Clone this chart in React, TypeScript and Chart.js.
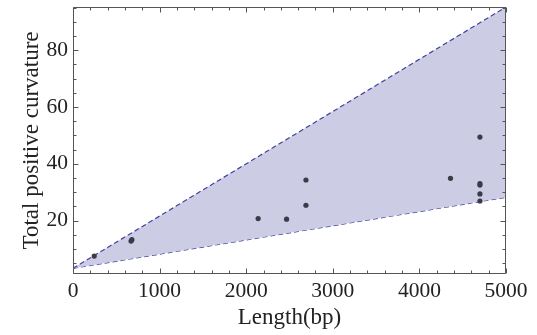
import React, { useEffect, useRef } from "react";
import { Chart, registerables } from "chart.js";

Chart.register(...registerables);

// Scatter data (Length in bp vs total positive curvature)
const lengthBp = [245, 670, 680, 2138, 2466, 2690, 2690, 4359, 4699, 4699, 4699, 4699, 4699];
const curvature = [7.5, 12.8, 13.3, 20.7, 20.5, 25.4, 34.3, 34.9, 49.4, 33.0, 32.5, 29.4, 26.9];

// Bounding lines
const boundX = [0, 5000];
const upperBound = [3.2, 95.2];
const lowerBound = [3.2, 28.2];

// Axes
const xTicks = [0, 1000, 2000, 3000, 4000, 5000];
const yTicks = [20, 40, 60, 80];
const xMin = 0;
const xMax = 5000;
const yMin = 1.2;
const yMax = 95.2;
const xMinorStep = 200;
const yMinorStep = 5;

const FONT = "'Liberation Serif', 'Times New Roman', serif";
const TEXT = "#222222";

const framePlugin = {
  id: "frameTicks",
  afterDatasetsDraw(chart: any) {
    const { ctx, chartArea: a, scales } = chart;
    const x = scales.x;
    const y = scales.y;
    ctx.save();
    ctx.strokeStyle = "#555555";
    ctx.lineWidth = 1;
    const L = Math.round(a.left) + 0.5;
    const R = Math.round(a.right) - 0.5;
    const T = Math.round(a.top) + 0.5;
    const B = Math.round(a.bottom) - 0.5;
    ctx.beginPath();
    ctx.rect(L, T, R - L, B - T);
    ctx.stroke();
    ctx.beginPath();
    for (let v = xMin; v <= xMax; v += xMinorStep) {
      const px = Math.round(x.getPixelForValue(v)) + 0.5;
      const len = v % 1000 === 0 ? 5 : 3;
      ctx.moveTo(px, B);
      ctx.lineTo(px, B - len);
      ctx.moveTo(px, T);
      ctx.lineTo(px, T + len);
    }
    for (let v = yMinorStep; v <= yMax; v += yMinorStep) {
      const py = Math.round(y.getPixelForValue(v)) + 0.5;
      const len = v % 20 === 0 ? 5 : 3;
      ctx.moveTo(L, py);
      ctx.lineTo(L + len, py);
      ctx.moveTo(R, py);
      ctx.lineTo(R - len, py);
    }
    ctx.stroke();
    ctx.restore();
  },
};

export default function App() {
  const ref = useRef<HTMLCanvasElement | null>(null);

  useEffect(() => {
    document.body.style.margin = "0";
    const canvas = ref.current;
    if (!canvas) return;
    const chart = new Chart(canvas, {
      type: "scatter",
      data: {
        datasets: [
          {
            type: "line",
            label: "upper",
            data: boundX.map((x, i) => ({ x, y: upperBound[i] })),
            borderColor: "#4040a0",
            borderWidth: 1.2,
            borderDash: [5, 3],
            pointRadius: 0,
            fill: "+1",
            backgroundColor: "rgba(204,204,228,1)",
            order: 2,
          },
          {
            type: "line",
            label: "lower",
            data: boundX.map((x, i) => ({ x, y: lowerBound[i] })),
            borderColor: "#4040a0",
            borderWidth: 1.2,
            borderDash: [5, 3],
            pointRadius: 0,
            fill: false,
            order: 2,
          },
          {
            type: "scatter",
            label: "data",
            data: lengthBp.map((x, i) => ({ x, y: curvature[i] })),
            backgroundColor: "#3a3a48",
            borderColor: "#3a3a48",
            borderWidth: 0,
            pointRadius: 2.6,
            order: 1,
          },
        ],
      },
      options: {
        responsive: false,
        animation: false,
        devicePixelRatio: 1,
        layout: { padding: { left: 0, right: 31, top: 7, bottom: 0 } },
        plugins: {
          legend: { display: false },
          tooltip: { enabled: false },
        },
        scales: {
          x: {
            type: "linear",
            min: xMin,
            max: xMax,
            grid: { display: false, drawTicks: false },
            border: { display: false },
            afterBuildTicks: (s: any) => {
              s.ticks = xTicks.map((v) => ({ value: v }));
            },
            afterFit: (s: any) => {
              s.height = 61;
              s.paddingLeft = 0;
              s.paddingRight = 0;
              s.paddingTop = 0;
              s.paddingBottom = 0;
            },
            ticks: {
              padding: 4,
              maxRotation: 0,
              autoSkip: false,
              color: TEXT,
              font: { family: FONT, size: 21.5 },
              callback: (v: any) => String(v),
            },
            title: {
              display: true,
              text: "Length(bp)",
              color: TEXT,
              font: { family: FONT, size: 23 },
              padding: { top: 0, bottom: 3 },
            },
          },
          y: {
            type: "linear",
            min: yMin,
            max: yMax,
            grid: { display: false, drawTicks: false },
            border: { display: false },
            afterBuildTicks: (s: any) => {
              s.ticks = yTicks.map((v) => ({ value: v }));
            },
            afterFit: (s: any) => {
              s.width = 73;
              s.paddingLeft = 0;
              s.paddingRight = 0;
              s.paddingTop = 0;
              s.paddingBottom = 0;
            },
            ticks: {
              padding: 5,
              autoSkip: false,
              color: TEXT,
              font: { family: FONT, size: 21.5 },
              callback: (v: any) => String(v),
            },
            title: {
              display: true,
              text: "Total positive curvature",
              color: TEXT,
              font: { family: FONT, size: 23 },
              padding: { top: 18, bottom: 0 },
            },
          },
        },
      },
      plugins: [framePlugin],
    } as any);
    return () => chart.destroy();
  }, []);

  return (
    <div style={{ width: 537, height: 335, background: "#fff" }}>
      <canvas ref={ref} width={537} height={335} style={{ width: 537, height: 335, display: "block" }} />
    </div>
  );
}
